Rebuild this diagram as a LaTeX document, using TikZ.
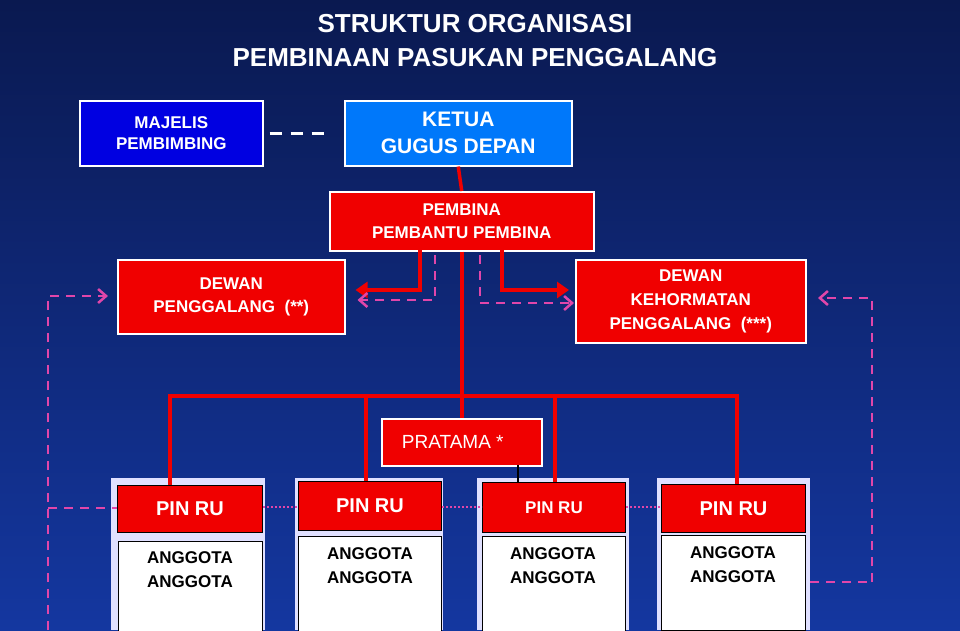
\documentclass[tikz,border=0pt]{standalone}
\usepackage{fontspec}
\setmainfont{Liberation Sans}
\usetikzlibrary{arrows.meta}
\definecolor{navy}{RGB}{10,25,80}
\definecolor{bblue}{RGB}{20,55,160}
\definecolor{pinkd}{RGB}{225,70,170}
\definecolor{rred}{RGB}{240,0,0}
\definecolor{majb}{RGB}{0,0,225}
\definecolor{ketb}{RGB}{0,120,250}
\tikzset{
 box/.style={draw=white,line width=1.5pt,inner sep=0pt,text=white,font=\bfseries,align=center,anchor=north west},
 redbox/.style={box,fill=rred},
 rline/.style={draw=rred,line width=3.5pt},
 pdash/.style={draw=pinkd,line width=2.5pt,dash pattern=on 9pt off 7pt},
 pdot/.style={draw=pinkd,line width=2.5pt,dash pattern=on 2pt off 2pt},
 panel/.style={fill=white!88!blue,draw=none,anchor=north west,inner sep=0pt},
 pin/.style={draw=black,line width=1pt,fill=rred,inner sep=0pt,anchor=north west,text=white,font=\bfseries\fontsize{20}{22}\selectfont},
 ang/.style={draw=black,line width=0.8pt,fill=white,inner sep=0pt,anchor=north west,align=center,font=\bfseries\fontsize{17}{24}\selectfont},
}
\begin{document}
\begin{tikzpicture}[x=1pt,y=-1pt]
\shade[top color=navy,bottom color=bblue] (0,0) rectangle (960,630);
\useasboundingbox (0,0) rectangle (960,630);
\node[text=white,font=\bfseries\fontsize{26}{34}\selectfont,align=center] (title) at (475,41) {STRUKTUR ORGANISASI\\PEMBINAAN PASUKAN PENGGALANG};
\node[box,fill=majb,minimum width=183,minimum height=65,font=\bfseries\fontsize{17}{21}\selectfont] (maj) at (79,100) {MAJELIS\\PEMBIMBING};
\node[box,fill=ketb,minimum width=227,minimum height=65,font=\bfseries\fontsize{21}{27}\selectfont] (ket) at (344,100) {KETUA\\GUGUS DEPAN};
\draw[white,line width=2.5pt,dash pattern=on 12pt off 9pt] ([xshift=6]maj.east) -- ([xshift=-12]ket.west);
\node[redbox,minimum width=264,minimum height=59,font=\bfseries\fontsize{17}{23}\selectfont] (pem) at (329,191) {PEMBINA\\PEMBANTU PEMBINA};
\node[redbox,minimum width=227,minimum height=74,font=\bfseries\fontsize{17}{23}\selectfont] (dp) at (117,259) {DEWAN\\PENGGALANG~~(**)};
\node[redbox,minimum width=230,minimum height=83,font=\bfseries\fontsize{17}{24}\selectfont] (dk) at (575,259) {DEWAN\\KEHORMATAN\\PENGGALANG~~(***)};
\node[redbox,minimum width=160,minimum height=47,font=\fontsize{19}{22}\selectfont] (pra) at (381,418) {\hspace*{-18pt}PRATAMA *};
% panels
\foreach \n/\x/\w in {1/111/154,2/295/148,3/477/152,4/657/153}{
 \node[panel,minimum width=\w,minimum height=152] (pan\n) at (\x,478) {};}
\node[pin,minimum width=145,minimum height=47] (p1) at (117,485) {PIN RU};
\node[pin,minimum width=143,minimum height=49] (p2) at (298,481) {PIN RU};
\node[pin,minimum width=143,minimum height=50,font=\bfseries\fontsize{17}{20}\selectfont] (p3) at (482,482) {PIN RU};
\node[pin,minimum width=144,minimum height=48] (p4) at (661,484) {PIN RU};
\node[ang,minimum width=144,minimum height=95] (a1) at (118,541) {\raisebox{0pt}{}};
\node[ang,minimum width=143,minimum height=95] (a2) at (298,536) {};
\node[ang,minimum width=143,minimum height=95] (a3) at (482,536) {};
\node[ang,minimum width=144,minimum height=95] (a4) at (661,535) {};
\node[font=\bfseries\fontsize{17}{24}\selectfont,align=center] (t1) at (190,570) {ANGGOTA\\ANGGOTA};
\node[font=\bfseries\fontsize{17}{24}\selectfont,align=center] (t2) at (370,566) {ANGGOTA\\ANGGOTA};
\node[font=\bfseries\fontsize{17}{24}\selectfont,align=center] (t3) at (553,566) {ANGGOTA\\ANGGOTA};
\node[font=\bfseries\fontsize{17}{24}\selectfont,align=center] (t4) at (733,565) {ANGGOTA\\ANGGOTA};
% red lines
\draw[rline] (ket.south) -- (pem.north);
\draw[rline] (pem.south) -- (pra.north);
\coordinate (bl) at (170,396); \coordinate (br) at (737,396);
\draw[rline] (p1.north -| bl) -- (bl) -- (br) -- (p4.north -| br);
\draw[rline] (366,396) -- (366,481);
\draw[rline] (555,396) -- (555,482);
\draw[rline,-{Triangle[length=12pt,width=16pt]}] (420,250) -- (420,290) -- ([xshift=10]dp.east |- 0,290);
\draw[rline,-{Triangle[length=12pt,width=16pt]}] (502,250) -- (502,290) -- ([xshift=-6]dk.west |- 0,290);
\draw[black,line width=1.2pt] (518,465) -- (518,482);
% pink dashed
\draw[pdash,-{Straight Barb[length=8pt,width=14pt]}] (435,255) -- (435,300) -- ([xshift=12]dp.east |- 0,300);
\draw[pdash,-{Straight Barb[length=8pt,width=14pt]}] (480,255) -- (480,303) -- ([xshift=-1]dk.west |- 0,303);
\coordinate (lc) at (48,630);
\draw[pdash,-{Straight Barb[length=8pt,width=14pt]}] (lc) -- (48,296) -- (108,296);
\draw[pdash] (48,508) -- (p1.west |- 0,508);
\coordinate (rc) at (872,298);
\draw[pdash,-{Straight Barb[length=8pt,width=14pt]}] (872,582) -- (rc) -- (818,298);
\draw[pdash] (pan4.east |- 0,582) -- (872,582);
\draw[pdot] (p1.east |- 0,507) -- (p2.west |- 0,507);
\draw[pdot] (p2.east |- 0,507) -- (p3.west |- 0,507);
\draw[pdot] (p3.east |- 0,507) -- (p4.west |- 0,507);
\end{tikzpicture}
\end{document}
